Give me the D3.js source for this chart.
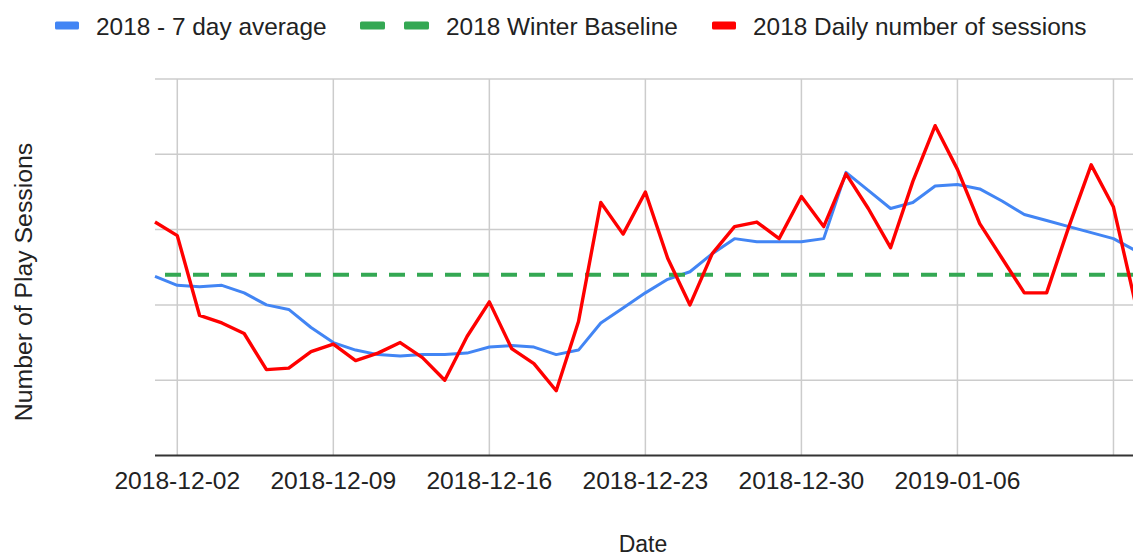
<!DOCTYPE html>
<html>
<head>
<meta charset="utf-8">
<script src="https://cdn.jsdelivr.net/npm/d3@7"></script>
<style>
  body { margin: 0; background: #fff; overflow: hidden; }
  text { font-family: "Liberation Sans", Arial, sans-serif; fill: #222; }
</style>
</head>
<body>
<svg id="chart"></svg>
<script>
// ---- data (y in arbitrary session units) ----
const startDate = "2018-12-01";
const endDate = "2019-01-14";

const dailySessions = [
  155, 146, 93, 88, 81, 57, 58, 69, 74, 63,
  68, 75, 65, 50, 79, 102, 71, 61, 43, 89,
  168, 147, 175, 131, 100, 134, 152, 155, 144, 172,
  152, 187, 164, 138, 182, 219, 190, 154, 131, 108,
  108, 152, 193, 165, 100
];

const sevenDayAvg = [
  119, 113, 112, 113, 108, 100, 97, 85, 75, 70,
  67, 66, 67, 67, 68, 72, 73, 72, 67, 70,
  88, 98, 108, 117, 122, 134, 144, 142, 142, 142,
  144, 188, 176, 164, 168, 179, 180, 177, 169, 160,
  156, 152, 148, 144, 136
];

const winterBaseline = 120;

const tickLabels = ["2018-12-02", "2018-12-09", "2018-12-16", "2018-12-23", "2018-12-30", "2019-01-06", "2019-01-13"];
const yTicks = [0, 50, 100, 150, 200, 250];

const legendNames = ["2018 - 7 day average", "2018 Winter Baseline", "2018 Daily number of sessions"];

// ---- layout ----
const width = 1133;
const height = 556;
const plotLeft = 155, plotTop = 79, plotBottom = 455.5;
const dayPx = 22.29;

const parse = d3.utcParse("%Y-%m-%d");
const fmt = d3.utcFormat("%Y-%m-%d");
const days = d3.utcDay.range(parse(startDate), d3.utcDay.offset(parse(endDate), 1));

const x = d3.scaleUtc()
  .domain([days[0], days[days.length - 1]])
  .range([plotLeft, plotLeft + (days.length - 1) * dayPx]);

const y = d3.scaleLinear()
  .domain([0, 250])
  .range([plotBottom, plotTop]);

const svg = d3.select("#chart")
  .attr("width", width)
  .attr("height", height);

// horizontal grid
svg.append("g")
  .selectAll("line")
  .data(yTicks.slice(1))
  .enter()
  .append("line")
  .attr("x1", plotLeft)
  .attr("x2", width)
  .attr("y1", d => y(d))
  .attr("y2", d => y(d))
  .attr("stroke", "#cccccc")
  .attr("stroke-width", 1.5);

// vertical grid + tick labels
const tickDates = tickLabels.map(parse);
svg.append("g")
  .selectAll("line")
  .data(tickDates)
  .enter()
  .append("line")
  .attr("x1", d => x(d))
  .attr("x2", d => x(d))
  .attr("y1", plotTop)
  .attr("y2", plotBottom)
  .attr("stroke", "#cccccc")
  .attr("stroke-width", 1.5);

svg.append("g")
  .selectAll("text")
  .data(tickDates.filter(d => x(d) + 62 < width))
  .enter()
  .append("text")
  .attr("x", d => x(d))
  .attr("y", 489)
  .attr("text-anchor", "middle")
  .style("font-size", "24.6px")
  .text(d => fmt(d));

// baseline (x axis)
svg.append("line")
  .attr("x1", plotLeft)
  .attr("x2", width)
  .attr("y1", y(0))
  .attr("y2", y(0))
  .attr("stroke", "#333333")
  .attr("stroke-width", 2);

// lines
const line = d3.line()
  .x((d, i) => x(days[i]))
  .y(d => y(d));

svg.append("path")
  .datum(sevenDayAvg)
  .attr("d", line)
  .attr("fill", "none")
  .attr("stroke", "#4285f4")
  .attr("stroke-width", 3)
  .attr("stroke-linejoin", "round");

svg.append("path")
  .datum(days.map(() => winterBaseline))
  .attr("d", line)
  .attr("fill", "none")
  .attr("stroke", "#34a853")
  .attr("stroke-width", 4)
  .attr("stroke-dasharray", "16,12")
  .attr("stroke-dashoffset", 18);

svg.append("path")
  .datum(dailySessions)
  .attr("d", line)
  .attr("fill", "none")
  .attr("stroke", "#ff0000")
  .attr("stroke-width", 3.4)
  .attr("stroke-linejoin", "round");

// axis titles
svg.append("text")
  .attr("x", 643)
  .attr("y", 552)
  .attr("text-anchor", "middle")
  .style("font-size", "23px")
  .text("Date");

svg.append("text")
  .attr("transform", "translate(32,282) rotate(-90)")
  .attr("text-anchor", "middle")
  .style("font-size", "24.8px")
  .text("Number of Play Sessions");

// legend
const legend = svg.append("g");

legend.append("rect")
  .attr("x", 55).attr("y", 21.5).attr("width", 24).attr("height", 8)
  .attr("rx", 1.5).attr("fill", "#4285f4");
legend.append("text").attr("x", 96).attr("y", 34.5)
  .style("font-size", "24.4px").text(legendNames[0]);

legend.selectAll(".gdash")
  .data([360, 404])
  .enter()
  .append("rect")
  .attr("class", "gdash")
  .attr("x", d => d).attr("y", 21.5).attr("width", 25).attr("height", 8)
  .attr("rx", 1.5).attr("fill", "#34a853");
legend.append("text").attr("x", 446).attr("y", 34.5)
  .style("font-size", "24.4px").text(legendNames[1]);

legend.append("rect")
  .attr("x", 712).attr("y", 21.5).attr("width", 24).attr("height", 8)
  .attr("rx", 1.5).attr("fill", "#ff0000");
legend.append("text").attr("x", 753).attr("y", 34.5)
  .style("font-size", "24.4px").text(legendNames[2]);
</script>
</body>
</html>
